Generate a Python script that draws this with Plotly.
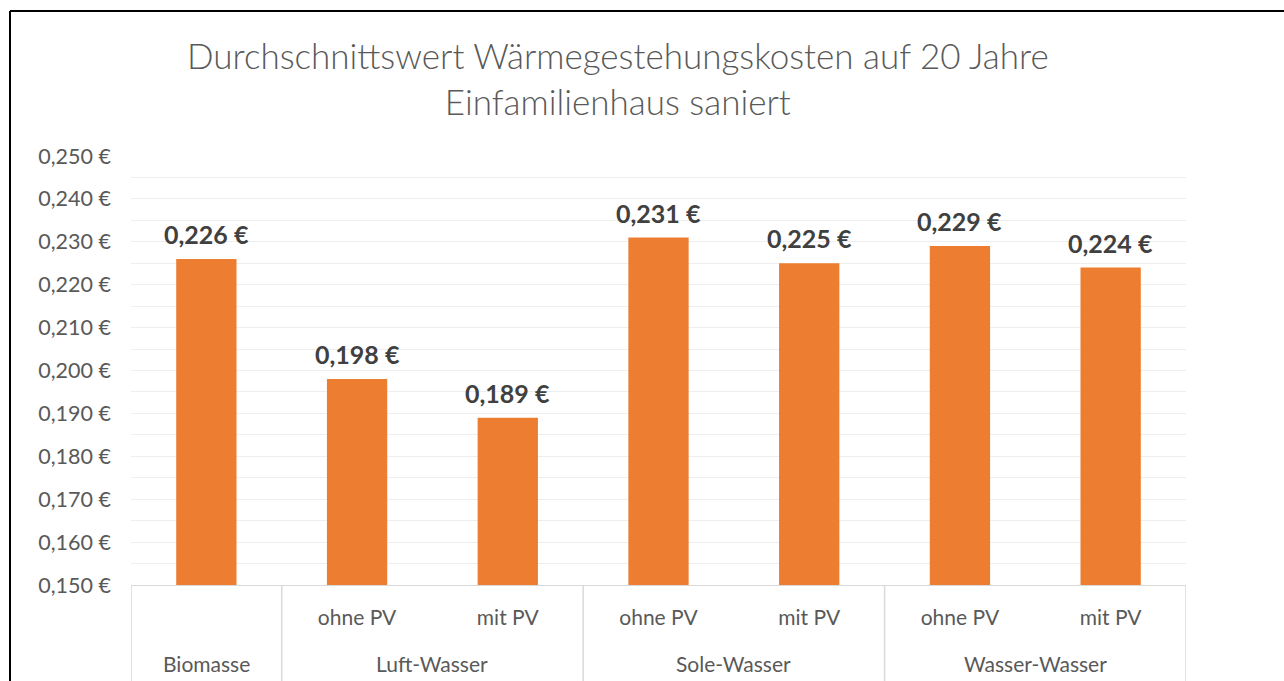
import plotly.graph_objects as go

# Heat generation cost over 20 years, refurbished single-family house (EUR per kWh)
groups = ["Biomasse", "Luft-Wasser", "Luft-Wasser", "Sole-Wasser", "Sole-Wasser",
          "Wasser-Wasser", "Wasser-Wasser"]
variants = ["", "ohne PV", "mit PV", "ohne PV", "mit PV", "ohne PV", "mit PV"]
costs = [0.226, 0.198, 0.189, 0.231, 0.225, 0.229, 0.224]

y_min, y_max = 0.150, 0.250

TEXT = "#595959"
LABEL = "#404040"
GRID = "#EEEEEE"
AXIS = "#D9D9D9"
BAR = "#ED7D31"
FONT = "Lato"

W, H = 1284, 681
L, R, T, B = 131, 98, 156, 96
plot_w, plot_h = W - L - R, H - T - B


def px_x(p):
    return (p - L) / plot_w


def px_y(p):
    return (H - B - p) / plot_h


def euro(v):
    return f"{v:.3f}".replace(".", ",") + " €"


pos = list(range(len(costs)))

fig = go.Figure(
    go.Bar(
        x=pos,
        y=costs,
        width=0.4,
        marker=dict(color=BAR, line=dict(width=0)),
        hovertemplate="%{y}<extra></extra>",
    )
)

# Value labels above each bar
for i, v in zip(pos, costs):
    fig.add_annotation(
        x=i, y=v, xref="x", yref="y",
        text=f"<b>{euro(v)}</b>",
        showarrow=False,
        yanchor="middle", yshift=25,
        font=dict(family=FONT, size=25, color=LABEL),
    )

fig.update_layout(
    width=W,
    height=H,
    margin=dict(l=L, r=R, t=T, b=B),
    paper_bgcolor="white",
    plot_bgcolor="white",
    separators=",.",
    showlegend=False,
    font=dict(family=FONT, color=TEXT, size=21),
)

fig.update_yaxes(
    range=[y_min, y_max],
    dtick=0.01,
    tick0=0.15,
    tickformat=".3f",
    ticksuffix=" €",
    showgrid=True,
    gridcolor=GRID,
    gridwidth=1,
    zeroline=False,
    showline=False,
    ticks="",
    ticklabelstandoff=19,
    tickfont=dict(family=FONT, size=21.5, color=TEXT),
    minor=dict(dtick=0.005, showgrid=True, gridcolor=GRID, gridwidth=1),
)

fig.update_xaxes(
    range=[-0.5, len(costs) - 0.5],
    tickvals=pos,
    ticktext=variants,
    showline=True,
    linecolor=AXIS,
    linewidth=1,
    showgrid=False,
    zeroline=False,
    ticks="",
    ticklabelstandoff=14,
    tickfont=dict(family=FONT, size=21, color=TEXT),
)

# Group labels and the dividers between groups below the axis
bounds = []
start = 0
for i in range(1, len(groups) + 1):
    if i == len(groups) or groups[i] != groups[start]:
        bounds.append((start, i - 1, groups[start]))
        start = i

edges = [-0.5] + [b[1] + 0.5 for b in bounds]
for e in edges:
    fig.add_shape(type="line", xref="x", yref="paper",
                  x0=e, x1=e, y0=0, y1=px_y(H + 5),
                  line=dict(color=AXIS, width=1.5))

for a, b, name in bounds:
    fig.add_annotation(
        x=(a + b) / 2, y=px_y(663), xref="x", yref="paper",
        text=name, showarrow=False, yanchor="middle",
        font=dict(family=FONT, size=21, color=TEXT),
    )

# Chart title, two lines
fig.add_annotation(
    text="Durchschnittswert Wärmegestehungskosten auf 20 Jahre<br>Einfamilienhaus saniert",
    xref="paper", yref="paper",
    x=px_x(618), y=px_y(78),
    xanchor="center", yanchor="middle",
    showarrow=False,
    font=dict(family=FONT, size=35, color=TEXT, weight=300),
)

# Frame lines on the top and left edges
fig.add_shape(type="line", xref="paper", yref="paper",
              x0=px_x(10), x1=px_x(W + 5), y0=px_y(11), y1=px_y(11),
              line=dict(color="black", width=2))
fig.add_shape(type="line", xref="paper", yref="paper",
              x0=px_x(10), x1=px_x(10), y0=px_y(11), y1=px_y(H + 5),
              line=dict(color="black", width=2))

fig.write_html("out.html")
